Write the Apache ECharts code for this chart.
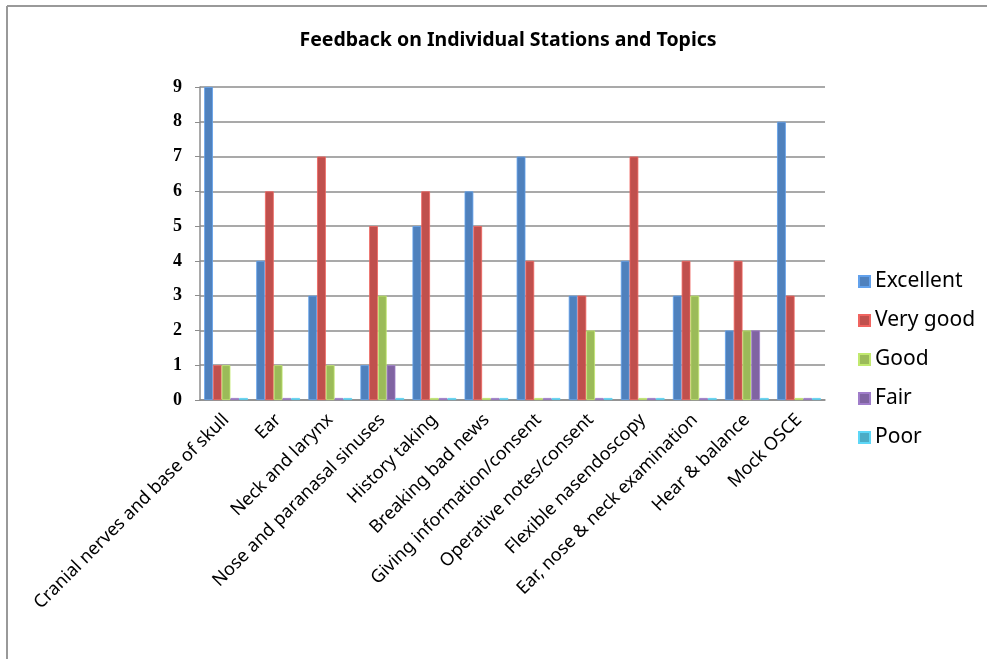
<!DOCTYPE html>
<html><head><meta charset="utf-8">
<script src="https://cdn.jsdelivr.net/npm/echarts@6/dist/echarts.min.js"></script>
<style>html,body{margin:0;padding:0;background:#fff}#c{width:987px;height:659px}</style>
</head><body><div id="c"></div>
<script>
const categories = ["Cranial nerves and base of skull","Ear","Neck and larynx","Nose and paranasal sinuses","History taking","Breaking bad news","Giving information/consent","Operative notes/consent","Flexible nasendoscopy","Ear, nose & neck examination","Hear & balance","Mock OSCE"];
const excellent = [9,4,3,1,5,6,7,3,4,3,2,8];
const veryGood  = [1,6,7,5,6,5,4,3,7,4,4,3];
const good      = [1,1,1,3,0,0,0,2,0,3,2,0];
const fair      = [0,0,0,1,0,0,0,0,0,0,2,0];
const poor      = [0,0,0,0,0,0,0,0,0,0,0,0];
const seriesNames = ["Excellent","Very good","Good","Fair","Poor"];
const colors = ["#4F81BD","#C0504D","#9BBB59","#8064A2","#4BACC6"];
const data = [excellent, veryGood, good, fair, poor];

const chart = echarts.init(document.getElementById('c'));
chart.setOption({
  animation:false,
  title:{text:"Feedback on Individual Stations and Topics",left:503,top:25,textAlign:'center',
    textStyle:{fontFamily:'Noto Sans',fontSize:19.5,fontWeight:'bold',color:'#000'}},
  legend:{orient:'vertical',left:853,top:266,itemGap:18,itemWidth:11,itemHeight:11,icon:'rect',
    textStyle:{fontFamily:'Noto Sans',fontSize:21,color:'#000'},data:seriesNames},
  grid:{left:200,right:162,top:87,bottom:259},
  xAxis:{type:'category',data:categories,
    axisLine:{lineStyle:{color:'#8c8c8c',width:1.5}},axisTick:{show:false},
    axisLabel:{rotate:45,interval:0,fontFamily:'Noto Sans',fontSize:18,color:'#000',margin:17}},
  yAxis:{type:'value',min:0,max:9,interval:1,
    axisLine:{show:true,lineStyle:{color:'#8c8c8c',width:1.5}},
    axisTick:{show:true,length:5,lineStyle:{color:'#8c8c8c'}},
    splitLine:{lineStyle:{color:'#8c8c8c',width:1.5}},
    axisLabel:{fontFamily:'Liberation Serif',fontWeight:'bold',fontSize:18,color:'#000',margin:18}},
  series: seriesNames.map((n,i)=>({name:n,type:'bar',data:data[i],barGap:'0%',barCategoryGap:'16%',barMinHeight:2,
    itemStyle:{color:colors[i],borderColor:echarts.color.lift(colors[i],-0.25),borderWidth:0.8}})),
  graphic:[
    {type:'line',shape:{x1:7,y1:6,x2:987,y2:6},style:{stroke:'#999',lineWidth:2}},
    {type:'line',shape:{x1:7,y1:6,x2:7,y2:659},style:{stroke:'#999',lineWidth:2}}
  ]
});
</script></body></html>
